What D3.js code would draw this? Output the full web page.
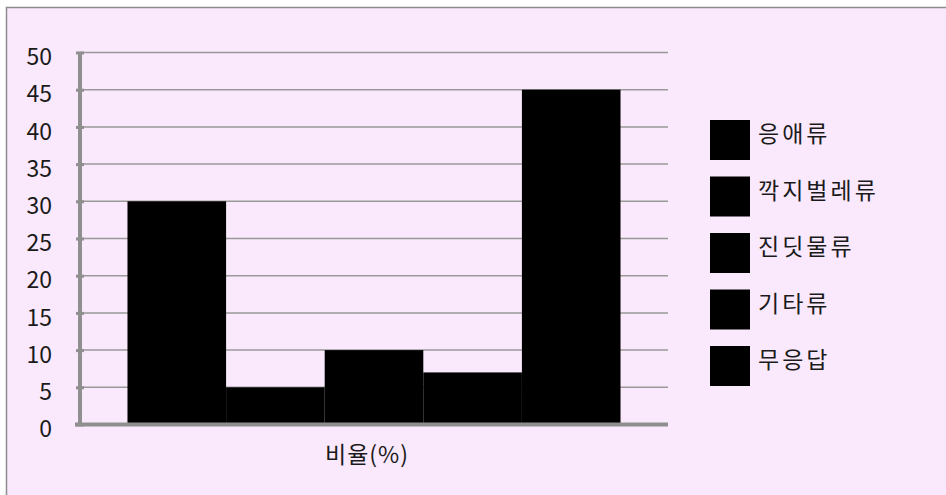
<!DOCTYPE html>
<html>
<head>
<meta charset="utf-8">
<script src="https://cdn.jsdelivr.net/npm/d3@7"></script>
<style>
  html, body { margin: 0; padding: 0; background: #ffffff; }
  svg { display: block; font-family: "Noto Sans CJK KR", "Noto Sans", sans-serif; }
</style>
</head>
<body>
<svg id="chart" width="946" height="495"></svg>
<script>
const categories = ["비율(%)"];
const seriesNames = ["응애류", "깍지벌레류", "진딧물류", "기타류", "무응답"];
const seriesValues = [30, 5, 10, 7, 45];
const yTicks = [0, 5, 10, 15, 20, 25, 30, 35, 40, 45, 50];

const svg = d3.select("#chart");
const W = 946, H = 495;
const FONT = "'Noto Sans CJK KR', 'Noto Sans', sans-serif";

// frame
svg.append("rect").attr("x", 6.5).attr("y", 7.5).attr("width", W).attr("height", H)
  .attr("fill", "#FAE9FC").attr("stroke", "#8c8c8c").attr("stroke-width", 1.5);

const plot = { left: 80, right: 668, top: 52.5, bottom: 424.5 };

const y = d3.scaleLinear().domain([0, 50]).range([plot.bottom, plot.top]);
const x0 = d3.scaleBand().domain(categories).range([plot.left, plot.right])
  .paddingInner(0).paddingOuter(0.0963);
const x1 = d3.scaleBand().domain(seriesNames).range([0, x0.bandwidth()]).padding(0);

// gridlines
svg.append("g").selectAll("line").data(yTicks.filter(d => d > 0)).join("line")
  .attr("x1", plot.left).attr("x2", plot.right)
  .attr("y1", d => y(d)).attr("y2", d => y(d))
  .attr("stroke", "#999999").attr("stroke-width", 1.5);

// bars
const rows = seriesNames.map((s, i) => ({ cat: categories[0], series: s, value: seriesValues[i] }));
svg.append("g").selectAll("rect").data(rows).join("rect")
  .attr("x", d => x0(d.cat) + x1(d.series))
  .attr("width", x1.bandwidth())
  .attr("y", d => y(d.value))
  .attr("height", d => y(0) - y(d.value))
  .attr("fill", "#000000");

// y axis
const yAxis = d3.axisLeft(y).tickValues(yTicks).tickSize(5).tickPadding(23);
const gy = svg.append("g").attr("transform", `translate(${plot.left},0)`).call(yAxis);
gy.select(".domain").attr("stroke", "#8f8f8f").attr("stroke-width", 4).attr("d", `M0,${plot.top}V${plot.bottom}`);
gy.selectAll(".tick line").attr("stroke", "#8f8f8f").attr("stroke-width", 3).attr("x1", 4).attr("x2", -4);
gy.selectAll(".tick text").attr("font-size", 23).attr("fill", "#1a1a1a")
  .attr("font-family", FONT).attr("dy", "0.53em");

// x axis
const xAxis = d3.axisBottom(x0).tickSize(0).tickPadding(22);
const gx = svg.append("g").attr("transform", `translate(0,${plot.bottom})`).call(xAxis);
gx.select(".domain").attr("stroke", "#8f8f8f").attr("stroke-width", 4).attr("d", `M${plot.left - 5},0H${plot.right}`);
gx.selectAll(".tick text").attr("font-size", 23).attr("fill", "#1a1a1a")
  .attr("font-family", FONT).attr("dx", -7).attr("letter-spacing", 1);

// legend
const lg = svg.append("g").attr("transform", "translate(710,120)");
const item = lg.selectAll("g").data(seriesNames).join("g")
  .attr("transform", (d, i) => `translate(0,${i * 56.5})`);
item.append("rect").attr("width", 40).attr("height", 40).attr("fill", "#000000");
item.append("text").attr("x", 48).attr("y", 22)
  .attr("font-size", 23).attr("letter-spacing", 3).attr("fill", "#1a1a1a").text(d => d);
</script>
</body>
</html>
